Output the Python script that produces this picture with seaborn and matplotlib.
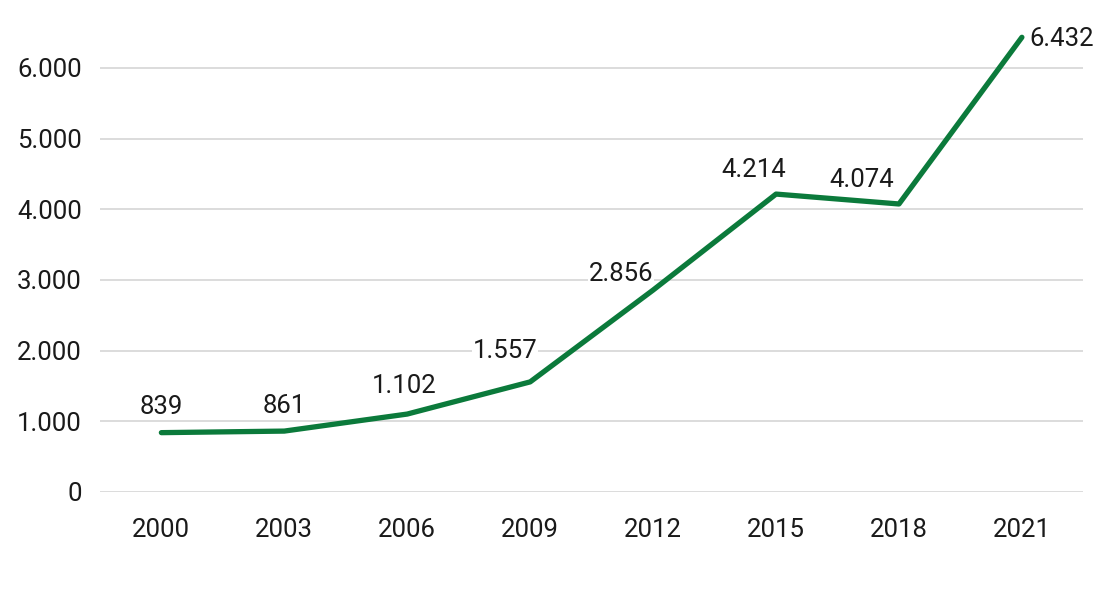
import matplotlib
matplotlib.use("Agg")
import matplotlib.pyplot as plt
import seaborn as sns
import pandas as pd

# data
years = ["2000", "2003", "2006", "2009", "2012", "2015", "2018", "2021"]
values = [839, 861, 1102, 1557, 2856, 4214, 4074, 6432]
labels = ["839", "861", "1.102", "1.557", "2.856", "4.214", "4.074", "6.432"]
yticks = [0, 1000, 2000, 3000, 4000, 5000, 6000]
ytick_labels = ["0", "1.000", "2.000", "3.000", "4.000", "5.000", "6.000"]

# label offsets in pixels (dx, dy) relative to each point
label_offsets = [(0, 26), (0, 25), (-3, 28), (-25, 31), (-32, 16), (-22, 24), (-37, 24), (40, -2)]

sns.set_theme(style="white")
plt.rcParams['font.family'] = ['Roboto', 'DejaVu Sans']

df = pd.DataFrame({"year": years, "value": values})

fig = plt.figure(figsize=(11.1, 5.92), dpi=100)
ax = fig.add_axes([0.09, 0.169, 0.886, 0.80])

for y in yticks:
    ax.axhline(y, color="#d9d9d9", linewidth=1.3, zorder=0)

sns.lineplot(data=df, x="year", y="value", color="#0b7a3b", linewidth=3.8,
             solid_capstyle="round", ax=ax, zorder=3)

for i, (v, lab) in enumerate(zip(values, labels)):
    dx, dy = label_offsets[i]
    ax.annotate(lab, (i, v), xytext=(dx * 0.72, dy * 0.72), textcoords="offset points",
                ha="center", va="center", fontsize=18.5, color="#1a1a1a", zorder=2,
                bbox=dict(boxstyle="square,pad=0.03", fc="white", ec="none"))

ax.set_xlim(-0.5, len(years) - 0.5)
ax.set_ylim(0, 6700)
ax.set_yticks(yticks)
ax.set_yticklabels(ytick_labels)
ax.set_xlabel("")
ax.set_ylabel("")
ax.tick_params(axis="both", labelsize=18.5, colors="#1a1a1a", length=0)
ax.tick_params(axis="x", pad=19)
ax.tick_params(axis="y", pad=13)
for s in ax.spines.values():
    s.set_visible(False)
ax.grid(False)

fig.savefig("out.png", dpi=100)
